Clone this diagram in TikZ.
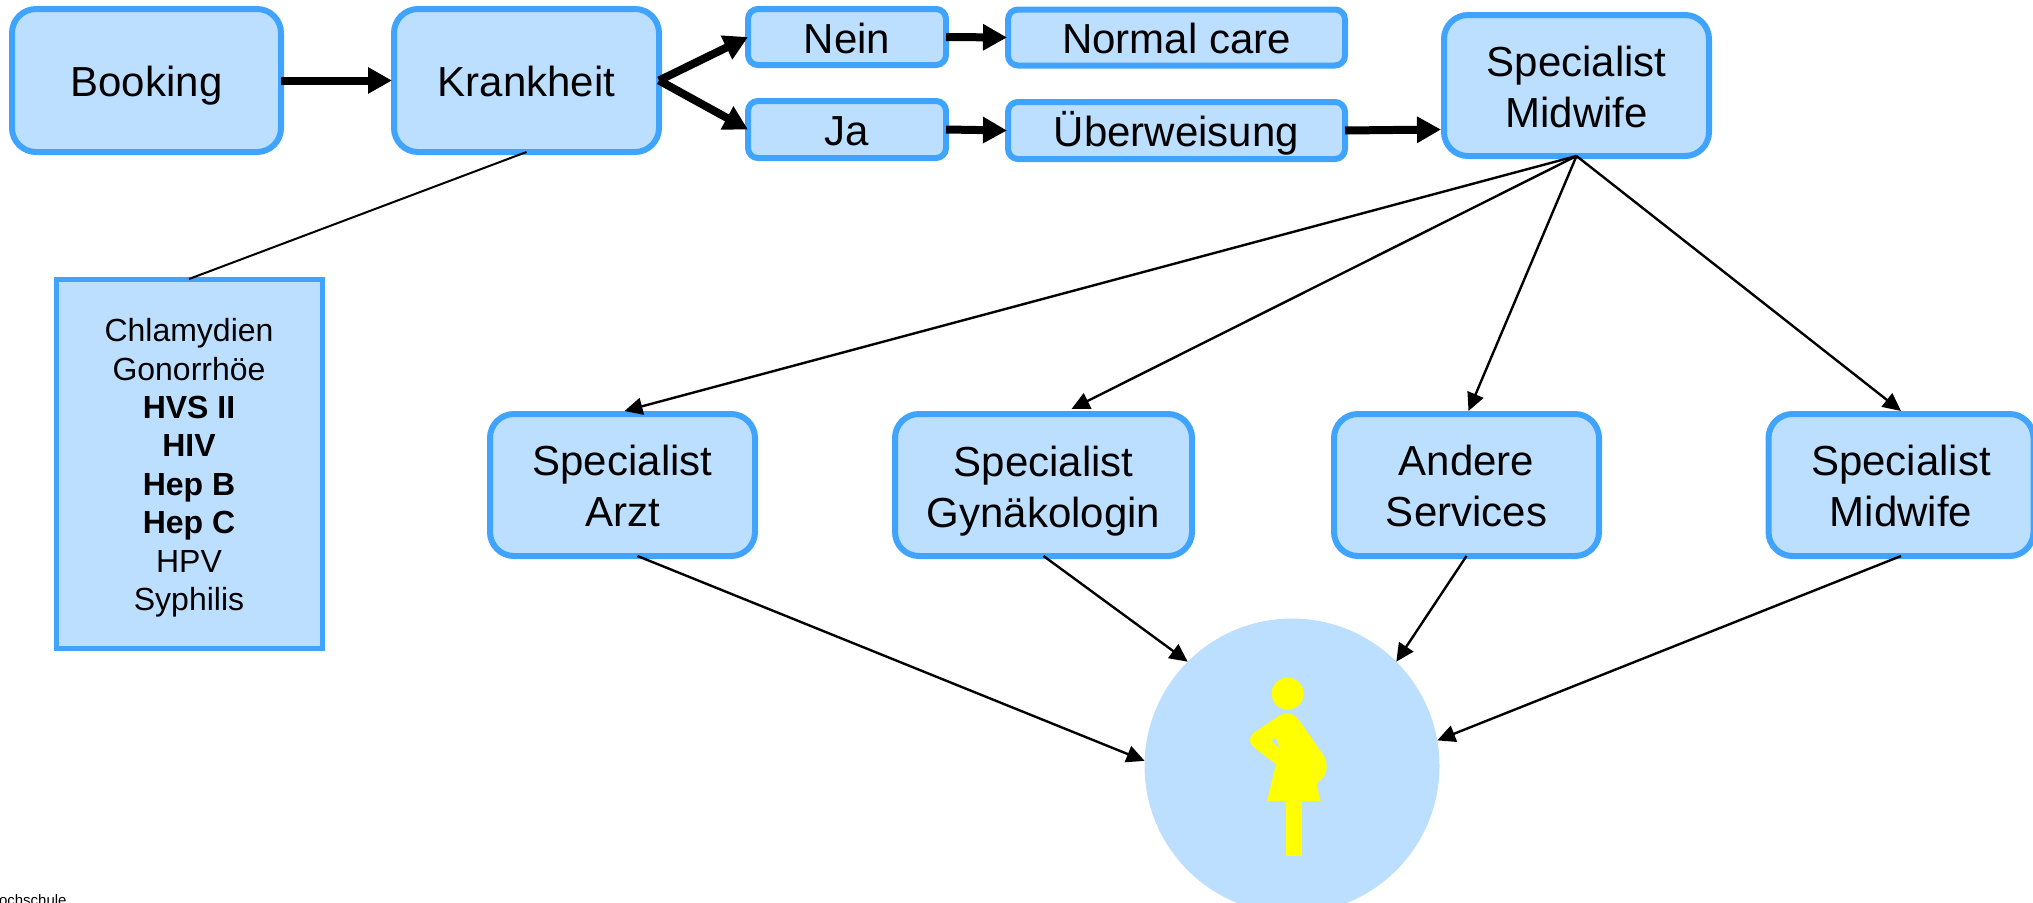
\documentclass[tikz,border=0pt]{standalone}
\usepackage{fontspec}
\setmainfont{Liberation Sans}
\usetikzlibrary{arrows.meta}
\definecolor{boxfill}{HTML}{BDDFFF}
\definecolor{boxline}{HTML}{40A4FF}
\definecolor{figyellow}{HTML}{FFFF00}
\newcommand{\topfix}{\rule{0pt}{33pt}}
\tikzset{
  flow/.style={draw=boxline,fill=boxfill,line width=6pt,rounded corners=24pt,inner sep=0pt,outer sep=0pt,align=center,
     font=\fontsize{42}{51}\selectfont},
  oneline/.style={text height=32pt,text depth=0pt},
  small/.style={rounded corners=10pt},
  heavy/.style={line width=8pt,-{Triangle[length=24pt,width=25pt]},black},
  thin/.style={line width=2.4pt,-{Triangle[length=18pt,width=17pt]},black},
  plain/.style={line width=2pt,black},
}
\begin{document}
\begin{tikzpicture}[x=1pt,y=-1pt]
\useasboundingbox (0,0) rectangle (2033,902);
\node[flow,oneline,minimum width=269pt,minimum height=143pt] (booking) at (146.5,80.5) {Booking};
\node[flow,oneline,minimum width=265pt,minimum height=143pt] (krank) at (526.5,80.5) {Krankheit};
\node[flow,small,oneline,minimum width=198pt,minimum height=56pt] (nein) at (847,37) {Nein};
\node[flow,small,oneline,minimum width=198pt,minimum height=57pt] (ja) at (847,129.5) {Ja};
\node[flow,small,oneline,minimum width=337pt,minimum height=56pt] (normal) at (1176.5,37.5) {Normal care};
\node[flow,small,oneline,minimum width=337pt,minimum height=57pt] (ueber) at (1176.5,130.5) {Überweisung};
\node[flow,minimum width=265pt,minimum height=141pt] (spectop) at (1576.5,85.5) {\topfix Specialist\\Midwife};
\node[flow,minimum width=265pt,minimum height=142pt] (arzt) at (622.5,485) {\topfix Specialist\\Arzt};
\node[flow,text depth=0pt,minimum width=297pt,minimum height=142pt] (gyn) at (1043.5,485) {\topfix Specialist\\Gynäkologin};
\node[flow,minimum width=265pt,minimum height=142pt] (andere) at (1466.5,485) {\topfix Andere\\Services};
\node[flow,minimum width=265pt,minimum height=142pt] (midwife) at (1901,485) {\topfix Specialist\\Midwife};
\node[draw=boxline,fill=boxfill,line width=5pt,inner sep=0pt,outer sep=0pt,minimum width=266pt,minimum height=369pt,align=center,
  font=\fontsize{32}{38.4}\selectfont] (list) at (189,463.5)
  {\rule{0pt}{32pt}Chlamydien\\Gonorrhöe\\\textbf{HVS II}\\\textbf{HIV}\\\textbf{Hep B}\\\textbf{Hep C}\\HPV\\Syphilis};
\node[circle,fill=boxfill,inner sep=0pt,outer sep=0pt,minimum size=295pt] (mother) at (1292,766) {};
\node[anchor=base west,inner sep=0pt,font=\fontsize{15}{15}\selectfont] (foot) at (-12,905) {Hochschule};
% figure
\begin{scope}[shift={(1130,600)},x=0.3333pt,y=-0.3333pt]
\fill[figyellow] (473,281) circle[radius=48];
\fill[figyellow] (440,352) -- (372,398) .. controls (356,410) and (356,430) .. (372,442) -- (438,493) -- (411,603) -- (572,603)
  -- (561,560) .. controls (560,552) and (562,548) .. (568,543) .. controls (592,528) and (598,490) .. (578,462)
  -- (508,362) .. controls (493,336) and (460,335) .. (440,352) -- cycle;
\fill[figyellow] (468,600) rectangle (516,768);
\fill[boxfill] (425,423) -- (437,413) -- (449,444) -- cycle;
\end{scope}
% heavy connectors
\draw[heavy] (booking.east) -- ([xshift=-2pt]krank.west);
\draw[heavy] (krank.east) -- (nein.west);
\draw[heavy] (krank.east) -- (ja.west);
\draw[heavy] (nein.east) -- ([xshift=-1pt]normal.west);
\draw[heavy] (ja.east) -- ([xshift=-1pt]ueber.west);
\draw[heavy] (ueber.east) -- ([xshift=-3pt,yshift=-44pt]spectop.west);
% thin connectors
\draw[plain] (krank.south) -- (list.north);
\draw[thin] (spectop.south) -- ([xshift=2pt,yshift=3pt]arzt.north);
\draw[thin] (spectop.south) -- ([xshift=28pt,yshift=5pt]gyn.north);
\draw[thin] (spectop.south) -- ([xshift=2pt,yshift=3pt]andere.north);
\draw[thin] (spectop.south) -- ([xshift=0pt,yshift=3pt]midwife.north);
\draw[thin] ([xshift=15pt]arzt.south) -- (mother.178);
\draw[thin] (gyn.south) -- (mother.135);
\draw[thin] (andere.south) -- (mother.45);
\draw[thin] (midwife.south) -- (mother.10);
\end{tikzpicture}
\end{document}
